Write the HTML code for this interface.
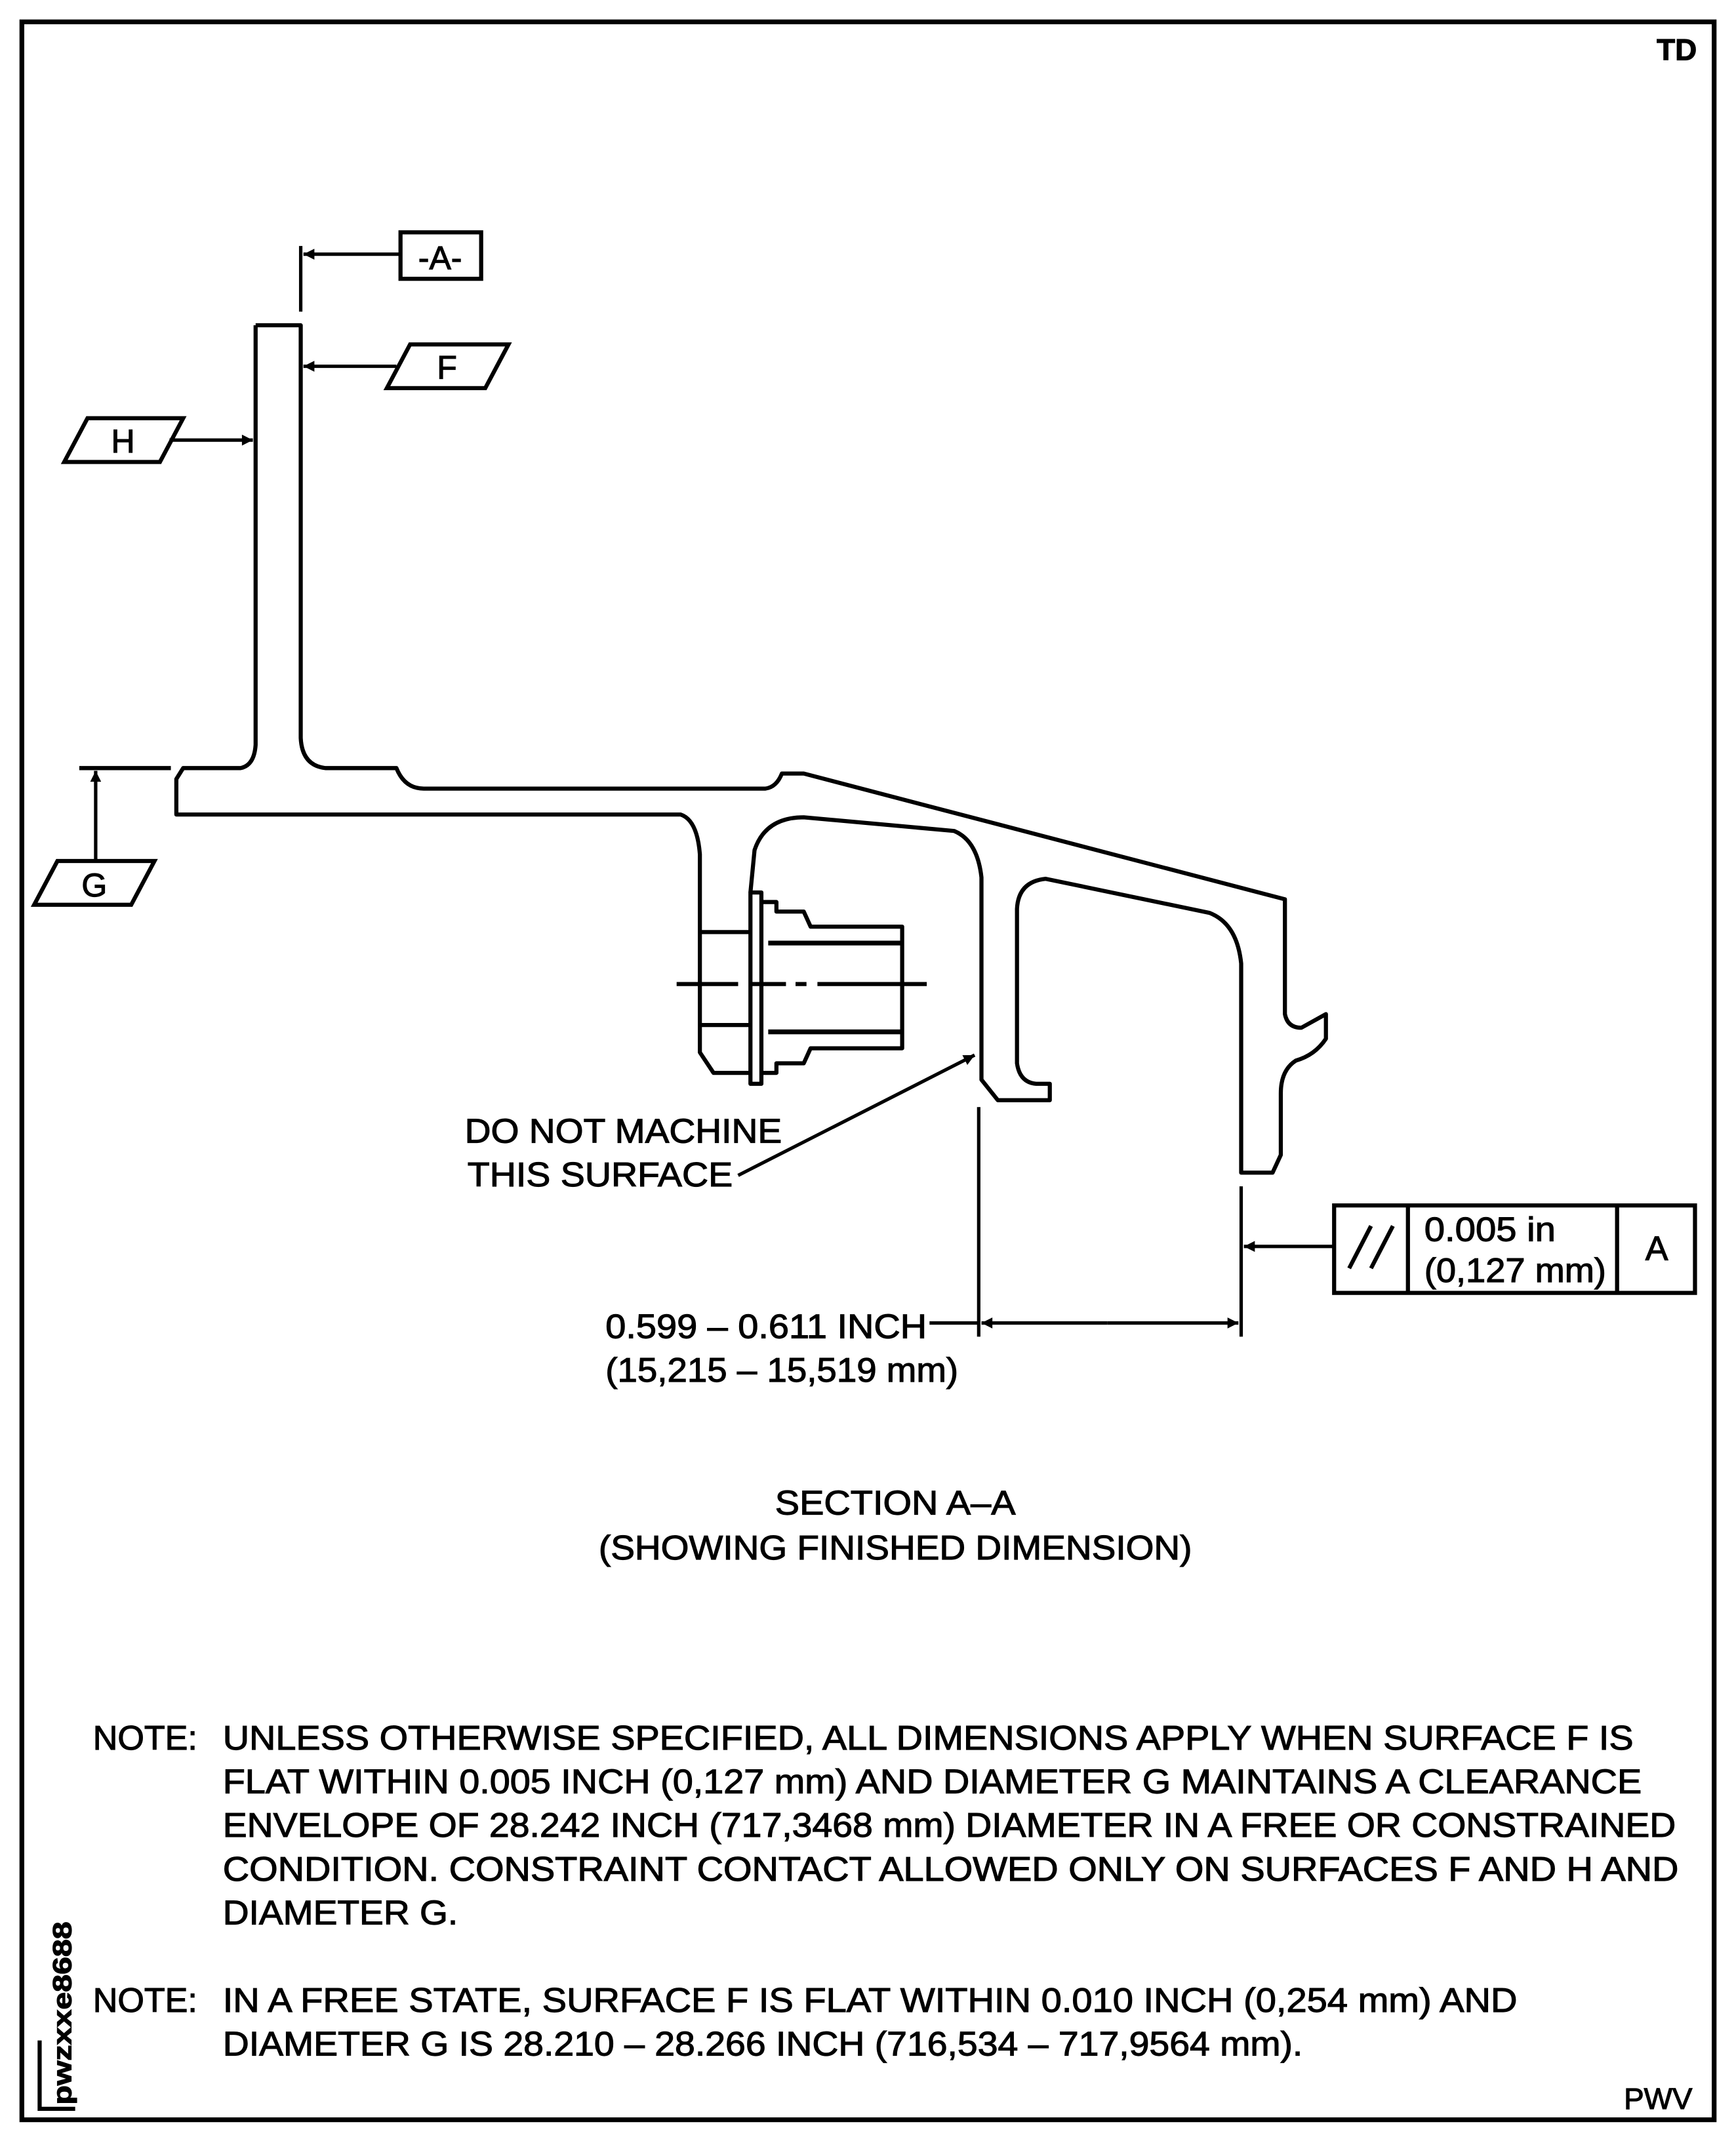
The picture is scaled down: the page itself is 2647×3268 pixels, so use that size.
<!DOCTYPE html>
<html><head><meta charset="utf-8"><style>
html,body{margin:0;padding:0;background:#fff;}
svg{display:block;}
text{font-family:"Liberation Sans",Arial,sans-serif;fill:#000;stroke:#000;stroke-width:0.55;}
</style></head><body>
<svg width="2647" height="3268" viewBox="0 0 1270 1568" preserveAspectRatio="none" xmlns="http://www.w3.org/2000/svg">
<defs>
<marker id="ar" viewBox="0 0 10 10" refX="10" refY="5" markerWidth="12" markerHeight="8" orient="auto" markerUnits="userSpaceOnUse">
<path d="M0,0 L10,5 L0,10 z" fill="#000"/></marker>
</defs>
<rect x="16" y="16" width="1238" height="1535" fill="none" stroke="#000" stroke-width="3.5"/>
<text x="1212" y="44" font-size="22" font-weight="bold">TD</text>
<text x="1188" y="1543" font-size="22">PWV</text>
<text transform="translate(52,1540) rotate(-90)" font-size="19" font-weight="bold" textLength="134" lengthAdjust="spacingAndGlyphs">pwzxxe8688</text>
<path d="M29,1493 V1543 H55" fill="none" stroke="#000" stroke-width="3"/>

<g fill="none" stroke="#000" stroke-width="3" stroke-linejoin="round">
<path d="M187,238 L220,238 L220,540 Q221,560 238,562 L290,562 Q296,577 310,577 L560,577 Q568,576 572,566 L588,566 L940,658 L940,742 Q942,752 952,752 L970,742 L970,760 Q962,772 948,776 Q937,783 937,800 L937,845 L931,858 L908,858 L908,705 Q905,676 885,668 L765,643 Q745,645 744,665 L744,778 Q746,792 758,793 L768,793 L768,805 L730,805 L718,790 L718,642 Q715,615 698,608 L588,598 Q560,598 552,622 L549,653"/>
<path d="M187,238 L187,545 Q186,560 176,562 L134,562 L129,570 L129,596 L498,596 Q510,600 512,625 L512,770 L522,785 L549,785"/>
<path d="M512,682 L549,682 M512,750 L549,750"/>
<rect x="549" y="653" width="8" height="140"/>
<path d="M557,660 L568,660 L568,667 L588,667 L593,678 L660,678 L660,767 L593,767 L588,778 L568,778 L568,785 L557,785"/>
<path d="M562,690 L660,690 M562,755 L660,755" stroke-width="3.5"/>
</g>
<path d="M495,720 L540,720 M548,720 L575,720 M582,720 L590,720 M598,720 L678,720" stroke="#000" stroke-width="3"/>

<g stroke="#000" stroke-width="2.5" fill="none">
<path d="M220,180 L220,228"/>
<path d="M293,186 L222,186" marker-end="url(#ar)"/>
<rect x="293" y="170" width="59" height="34" stroke-width="3"/>
<path d="M290,268 L222,268" marker-end="url(#ar)"/>
<path d="M283,284 L300,252 L372,252 L355,284 Z" stroke-width="3"/>
<path d="M47,338 L64,306 L134,306 L117,338 Z" stroke-width="3"/>
<path d="M124,322 L185,322" marker-end="url(#ar)"/>
<path d="M58,562 L125,562" stroke-width="3"/>
<path d="M70,630 L70,564" marker-end="url(#ar)"/>
<path d="M25,662 L42,630 L113,630 L96,662 Z" stroke-width="3"/>
<path d="M716,810 L716,978 M908,868 L908,978"/>
<path d="M680,968 L716,968"/>
<path d="M810,968 L718,968" marker-end="url(#ar)"/>
<path d="M810,968 L906,968" marker-end="url(#ar)"/>
<path d="M540,860 L713,772" marker-end="url(#ar)"/>
<path d="M976,912 L910,912" marker-end="url(#ar)"/>
<rect x="976" y="882" width="264" height="64" stroke-width="3"/>
<path d="M1030,882 L1030,946 M1183,882 L1183,946" stroke-width="3"/>
<path d="M987,928 L1003,897 M1003,928 L1019,897" stroke-width="3"/>
</g>
<text x="322" y="197" font-size="24" text-anchor="middle">-A-</text>
<text x="327" y="277" font-size="24" text-anchor="middle">F</text>
<text x="90" y="331" font-size="24" text-anchor="middle">H</text>
<text x="69" y="656" font-size="24" text-anchor="middle">G</text>
<g font-size="25">
<text x="340" y="836" textLength="232" lengthAdjust="spacingAndGlyphs">DO NOT MACHINE</text>
<text x="342" y="868" textLength="194" lengthAdjust="spacingAndGlyphs">THIS SURFACE</text>
<text x="443" y="979" textLength="235" lengthAdjust="spacingAndGlyphs">0.599 – 0.611 INCH</text>
<text x="443" y="1011" textLength="258" lengthAdjust="spacingAndGlyphs">(15,215 – 15,519 mm)</text>
<text x="1042" y="908" textLength="96" lengthAdjust="spacingAndGlyphs">0.005 in</text>
<text x="1042" y="938" textLength="133" lengthAdjust="spacingAndGlyphs">(0,127 mm)</text>
<text x="1212" y="922" text-anchor="middle">A</text>
<text x="655" y="1108" text-anchor="middle" textLength="176" lengthAdjust="spacingAndGlyphs">SECTION A–A</text>
<text x="655" y="1141" text-anchor="middle" textLength="434" lengthAdjust="spacingAndGlyphs">(SHOWING FINISHED DIMENSION)</text>
<text x="68" y="1280">NOTE:</text>
<text x="163" y="1280" textLength="1032" lengthAdjust="spacingAndGlyphs">UNLESS OTHERWISE SPECIFIED, ALL DIMENSIONS APPLY WHEN SURFACE F IS</text>
<text x="163" y="1312" textLength="1038" lengthAdjust="spacingAndGlyphs">FLAT WITHIN 0.005 INCH (0,127 mm) AND DIAMETER G MAINTAINS A CLEARANCE</text>
<text x="163" y="1344" textLength="1063" lengthAdjust="spacingAndGlyphs">ENVELOPE OF 28.242 INCH (717,3468 mm) DIAMETER IN A FREE OR CONSTRAINED</text>
<text x="163" y="1376" textLength="1065" lengthAdjust="spacingAndGlyphs">CONDITION. CONSTRAINT CONTACT ALLOWED ONLY ON SURFACES F AND H AND</text>
<text x="163" y="1408" textLength="172" lengthAdjust="spacingAndGlyphs">DIAMETER G.</text>
<text x="68" y="1472">NOTE:</text>
<text x="163" y="1472" textLength="947" lengthAdjust="spacingAndGlyphs">IN A FREE STATE, SURFACE F IS FLAT WITHIN 0.010 INCH (0,254 mm) AND</text>
<text x="163" y="1504" textLength="790" lengthAdjust="spacingAndGlyphs">DIAMETER G IS 28.210 – 28.266 INCH (716,534 – 717,9564 mm).</text>
</g>
</svg>
</body></html>
